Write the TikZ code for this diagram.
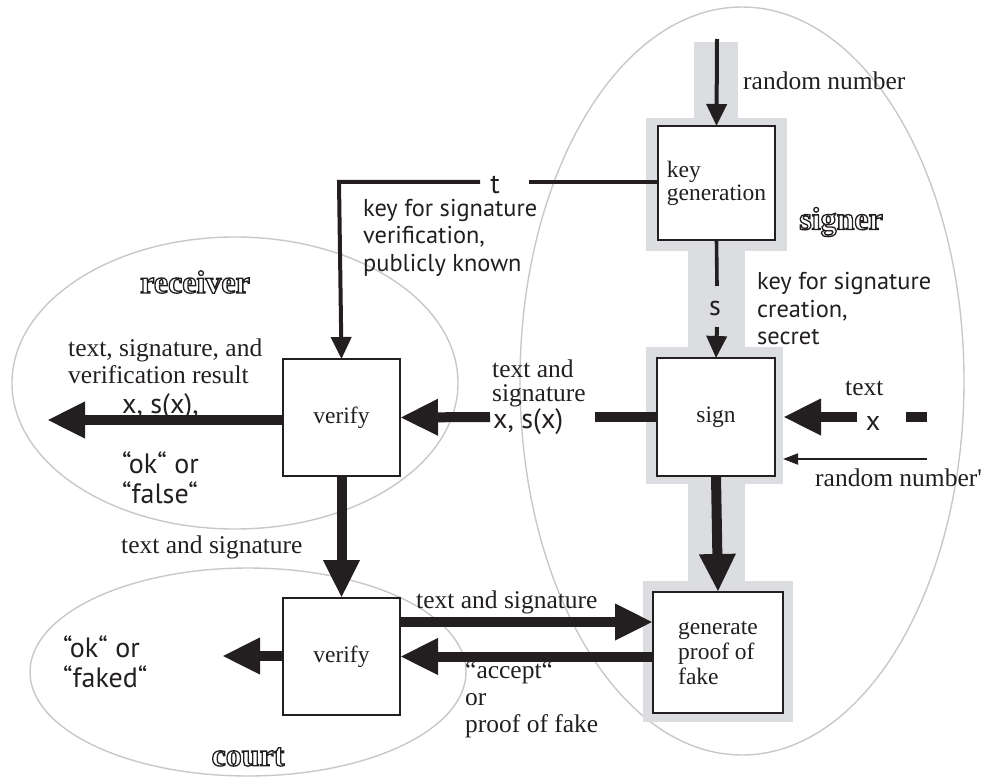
\documentclass[tikz,border=0pt]{standalone}
\usepackage{fontspec}
\usetikzlibrary{arrows.meta,shapes.geometric}

\newfontfamily\serifface{Liberation Serif}
\newfontfamily\sansface{PT Sans}
\newfontfamily\hollowface{Liberation Serif}

\definecolor{ink}{HTML}{231F20}
\definecolor{bandgray}{HTML}{DCDDE0}
\definecolor{zonegray}{HTML}{C8C8C8}

% outlined lettering: glyphs stroked, not filled
\newcommand\hollowword[1]{\leavevmode
  \special{pdf:literal 1 Tr 1.3 w}#1\special{pdf:literal 0 Tr}}

\begin{document}
\begin{tikzpicture}[x=1pt,y=-1pt,
  zone/.style={ellipse, draw=zonegray, line width=1.4pt, inner sep=0, outer sep=0},
  band/.style={fill=bandgray, draw=none, inner sep=0, outer sep=0},
  block/.style={draw=ink, line width=2pt, fill=white, inner sep=0, outer sep=0,
    text=ink, align=left, font=\serifface\fontsize{23.5}{23}\selectfont},
  serlabel/.style={inner sep=0, anchor=west, align=left, text=ink,
    font=\serifface\fontsize{25.5}{27}\selectfont},
  sanlabel/.style={inner sep=0, anchor=west, align=left, text=ink,
    font=\sansface\fontsize{24.4}{27.5}\selectfont},
  biglabel/.style={inner sep=0, align=left, text=ink,
    font=\sansface\fontsize{28}{30}\selectfont},
  party/.style={inner sep=0, text=ink, font=\hollowface\bfseries\fontsize{32}{32}\selectfont},
  thickarrow/.style={draw=ink, line width=10pt, -{Triangle[length=38pt,width=34pt]}},
  thickline/.style={draw=ink, line width=10pt},
  keyarrow/.style={draw=ink, line width=4pt, -{Triangle[length=22pt,width=20pt]}},
  keyline/.style={draw=ink, line width=3.6pt},
  thinarrow/.style={draw=ink, line width=1.8pt, -{Triangle[length=15pt,width=11pt]}}
]
\useasboundingbox (0,0) rectangle (987,778);

% parties
\node[zone, minimum width=444pt, minimum height=748pt] (signerzone) at (742,381) {};
\node[zone, minimum width=446pt, minimum height=292pt] (receiverzone) at (235,383) {};
\node[zone, minimum width=436pt, minimum height=208pt] (courtzone) at (248,672) {};

% shaded signer path
\node[band, minimum width=44pt, minimum height=76pt] (bandtop) at (716,80) {};
\node[band, minimum width=141pt, minimum height=133pt] (kggray) at (716.5,184.5) {};
\node[band, minimum width=57pt, minimum height=96pt] (bandmid) at (716.5,299) {};
\node[band, minimum width=137pt, minimum height=137pt] (signgray) at (714.5,415.5) {};
\node[band, minimum width=57pt, minimum height=97pt] (bandlow) at (716.5,532.5) {};
\node[band, minimum width=150pt, minimum height=141pt] (gengray) at (718,651.5) {};

% blocks
\node[block, minimum width=117pt, minimum height=114pt] (kg) at (716.5,183) {key\\generation};
\node[block, minimum width=118pt, minimum height=118pt] (sign) at (716,417) {\raisebox{-8pt}{sign}};
\node[block, minimum width=130pt, minimum height=121pt, font=\serifface\fontsize{23.5}{25}\selectfont] (gen) at (718,652.5) {generate\\proof of\\fake};
\node[block, minimum width=117pt, minimum height=117pt] (vrec) at (341.5,417.5) {\raisebox{-5pt}{verify}};
\node[block, minimum width=117pt, minimum height=117pt] (vcourt) at (341.5,656.5) {verify};

% free ends
\coordinate (rndtop) at (717,39);
\coordinate (sA) at (717,286);
\coordinate (sB) at (717,327);
\coordinate (tA) at (529,182);
\coordinate (tB) at (480,182);
\coordinate (tcorner) at (339,182);
\coordinate (xA) at (857,417);
\coordinate (xB) at (906,417);
\coordinate (xC) at (927,417);
\coordinate (rnd2) at (927,459);
\coordinate (msgA) at (595,417);
\coordinate (msgB) at (490,417);
\coordinate (recout) at (47,420);
\coordinate (courtout) at (222,656);
\coordinate (toGen) at (400,622);

% key generation
\draw[keyarrow] (rndtop) -- (kg.north);
\draw[keyline] (kg.south) -- (sA);
\draw[keyarrow] (sB) -- (sign.north);
\draw[keyline] (kg.west |- tA) -- (tA);
\draw[keyarrow] (tB) -- (tcorner) -- (vrec.north);

% signing
\draw[thickarrow] (xA) -- (signgray.east |- xA);
\draw[thickline] (xC) -- (xB);
\draw[thinarrow] (rnd2) -- (signgray.east |- rnd2);
\draw[thickline] (sign.west) -- (msgA);
\draw[thickarrow] (msgB) -- (vrec.east);
\draw[thickarrow] (sign.south) -- (gen.north);

% receiver and court
\draw[thickarrow] (vrec.west |- recout) -- (recout);
\draw[thickarrow] (vrec.south) -- (vcourt.north);
\draw[thickarrow] (toGen) -- (gen.west |- toGen);
\draw[thickarrow] (gen.west |- vcourt.east) -- (vcourt.east);
\draw[thickarrow] (vcourt.west |- courtout) -- (courtout);

% labels
\node[serlabel] (lrnd) at (743,81) {random number};
\node[party] (lsigner) at (841,222) {\hollowword{signer}};
\node[party] (lreceiver) at (195,282) {\hollowword{receiver}};
\node[party] (lcourt) at (248,757) {\hollowword{court}};
\node[biglabel] (lt) at (495,185) {t};
\node[biglabel] (ls) at (715,308) {s};
\node[sanlabel] (lpub) at (363,237.7) {key for signature\\verification,\\publicly known};
\node[sanlabel] (lsec) at (757,308.7) {key for signature\\creation,\\secret};
\node[serlabel] (ltext) at (845,388) {text};
\node[biglabel] (lx) at (873,423) {x};
\node[serlabel] (lrnd2) at (815,478) {random number'};
\node[serlabel, font=\serifface\fontsize{25.5}{24}\selectfont] (lmsg) at (492,383) {text and\\signature};
\node[biglabel, anchor=west] (lxs) at (493,422) {x, s(x)};
\node[serlabel] (lrecout) at (68,361.5) {text, signature, and\\verification result};
\node[biglabel, anchor=west] (lxs2) at (122,407) {x, s(x),};
\node[biglabel, anchor=west] (lok) at (122,478) {“ok“ or\\“false“};
\node[serlabel] (lfwd) at (121,547) {text and signature};
\node[serlabel] (lcourtmsg) at (416,602) {text and signature};
\node[serlabel] (lanswer) at (465,700) {“accept“\\or\\proof of fake};
\node[biglabel, anchor=west] (lfaked) at (63,662) {“ok“ or\\“faked“};
\end{tikzpicture}
\end{document}
